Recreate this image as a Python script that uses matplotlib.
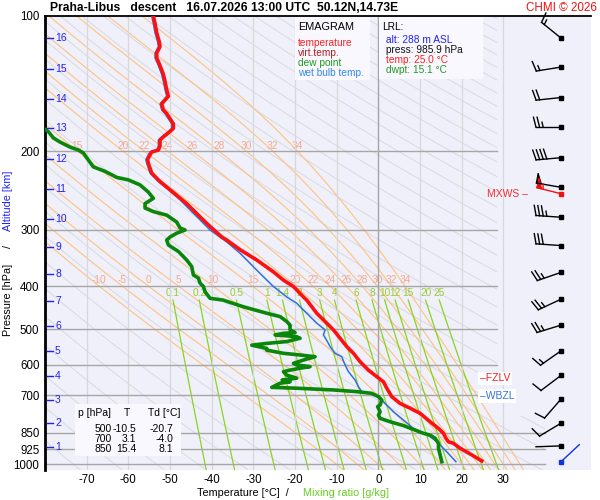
import numpy as np
import matplotlib
matplotlib.use("Agg")
import matplotlib.pyplot as plt
from matplotlib.patches import Rectangle, Polygon
from matplotlib.lines import Line2D
from matplotlib.transforms import IdentityTransform

plt.rcParams['font.family'] = ['Liberation Sans', 'DejaVu Sans']

# ---------------- data ----------------
TEMP_T = [24.8, 22.4, 19.6, 18.0, 16.8, 16.2, 15.6, 14.4, 12.4, 10.0, 7.6, 5.2, 3.2, 2.0, 1.2,
          -0.4, -2.4, -4.4, -6.0, -7.6, -9.2, -10.8, -12.8, -14.8, -17.2, -18.0, -20.4, -22.8,
          -25.2, -29.2, -33.2, -36.4, -37.6, -41.2, -46.0, -50.0, -52.4, -54.4, -55.2, -55.4,
          -54.8, -54.4, -52.8, -52.4, -52.4, -51.6, -50.0, -49.2, -49.2, -50.8, -51.6, -52.0,
          -51.2, -50.4, -50.8, -51.2, -51.6, -52.4, -53.2, -53.2, -52.4, -52.6, -53.2, -53.6, -54.0]
TEMP_P = [982, 952, 920, 897, 890, 874, 852, 831, 803, 769, 749, 731, 706, 676, 654,
          637, 616, 590, 565, 546, 523, 501, 480, 460, 430, 423, 401, 388,
          372, 350, 332, 316, 311, 290, 262, 244, 234, 224, 213, 209,
          204, 201, 199, 195, 189, 186, 181, 178, 174, 165, 162, 157,
          154, 151, 146, 140, 135, 129, 124, 121, 117, 114, 109, 104, 100]

WB_T = [18.6, 16.4, 14.0, 12.4, 10.8, 8.4, 6.0, 3.6, 1.6, 0.0, -2.0, -4.0, -4.8, -5.6, -7.2,
        -8.0, -8.8, -10.4, -11.6, -12.0, -13.2, -12.8, -14.8, -17.2, -19.6, -20.8, -22.0,
        -25.2, -28.4, -33.2, -36.4, -40.4, -43.6, -47.6, -50.4, -52.8, -54.8, -55.6, -55.8,
        -55.2, -54.8, -53.2, -52.8, -52.8, -52.0, -50.4, -49.6, -49.6, -51.2, -52.0, -52.4,
        -51.6, -50.8, -51.2, -51.6, -52.0, -52.8, -53.6, -53.6, -52.8, -53.0, -53.6, -54.0, -54.4]
WB_P = [986, 937, 890, 867, 852, 831, 796, 763, 731, 706, 694, 688, 671, 648, 621,
        600, 575, 565, 546, 537, 514, 501, 484, 460, 437, 430, 423,
        401, 375, 338, 319, 300, 280, 257, 244, 234, 224, 213, 209,
        204, 201, 199, 195, 189, 186, 181, 178, 174, 165, 162, 157,
        154, 151, 146, 140, 135, 129, 124, 121, 117, 114, 109, 104, 100]

DEW_T = [15.2, 14.8, 14.4, 14.4, 13.6, 12.4, 10.8, 8.8, 6.0, 2.8, 0.4, 0.0, 0.4, -0.2, 0.4,
         0.8, 0.0, -1.6, -5.2, -10.8, -19.6, -25.6, -23.6, -21.2, -23.1, -19.6, -22.0, -22.8,
         -21.2, -18.8, -16.4, -19.6, -20.4, -18.0, -15.2, -18.8, -22.8, -26.8, -26.8, -30.4,
         -26.8, -22.0, -18.8, -19.6, -24.8, -22.8, -20.0, -21.2, -21.2, -22.0, -23.6, -26.8,
         -32.4, -37.3, -40.4, -41.6, -42.0, -42.8, -43.2, -44.4, -44.8, -46.0, -48.0, -50.4,
         -50.8, -50.0, -48.4, -46.4, -47.6, -48.4, -50.8, -54.0, -56.0, -56.0, -54.0, -55.2,
         -57.2, -60.0, -62.8, -65.6, -68.4, -70.0, -70.8, -72.0, -74.0, -76.4, -78.0, -79.2, -81.2]
DEW_P = [986, 952, 920, 897, 874, 860, 852, 838, 819, 803, 789, 776, 763, 743, 737,
         718, 706, 694, 688, 682, 676, 673, 659, 654, 648, 642, 632, 621,
         616, 610, 605, 600, 595, 585, 575, 570, 565, 556, 551, 542,
         537, 532, 523, 519, 514, 510, 508, 501, 489, 480, 468, 460,
         445, 430, 426, 412, 401, 394, 384, 378, 362, 350, 335, 324,
         316, 311, 305, 300, 297, 288, 278, 273, 268, 262, 255, 247,
         238, 232, 229, 222, 217, 207, 202, 199, 196, 191, 187, 181, 176]

P_TICKS = [100, 200, 300, 400, 500, 600, 700, 850, 925, 1000]
T_TICKS = [-70, -60, -50, -40, -30, -20, -10, 0, 10, 20, 30]
KM_LABELS = [1, 2, 3, 4, 5, 6, 7, 8, 9, 10, 11, 12, 13, 14, 15, 16]
KM_P = [913, 809, 718, 635, 558, 491, 432, 376, 327, 283, 243, 208, 178, 153, 131, 112]

THETA_DRY = list(range(190, 640, 10))
THETA_W = [-10, -5, 0, 5, 10, 15, 20, 22, 24, 26, 28, 30, 32, 34]
THETA_W_LAB200 = [15, 20, 22, 24, 26, 28, 30, 32, 34]
MIX_R = [0.1, 0.2, 0.5, 1, 1.4, 2, 3, 4, 6, 8, 10, 12, 15, 20, 25]
MIX_LAB = ['0.1', '0.2', '0.5', '1', '1.4', '2', '3', '4', '6', '8', '10', '12', '15', '20', '25']

WIND_P = [112, 130, 152, 177, 207, 241, 281, 325, 373, 428, 489, 558, 633, 715, 809, 909]
WIND_DIR = [309, 261, 264, 270, 265, 280, 274, 274, 251, 245, 253, 235, 233, 221, 239, 268]
WIND_SPD = [15, 15, 20, 25, 40, 50, 35, 30, 25, 25, 25, 15, 10, 10, 10, 2]
MXWS_P, MXWS_DIR, MXWS_SPD = 249, 284, 55
SFC_P, SFC_DIR, SFC_SPD = 986, 47, 2

FZLV_P = 642
WBZL_P = 703

TABLE_ROWS = [("500", "-10.5", "-20.7"), ("700", "3.1", "-4.0"), ("850", "15.4", "8.1")]

# ---------------- figure ----------------
W, H = 600, 500
fig = plt.figure(figsize=(6, 5), dpi=100)
ax = fig.add_axes([45 / W, 1 - 470 / H, (591 - 45) / W, (470 - 16) / H])
ax.set_facecolor('#f0f0fb')
ax.set_yscale('log')
P_BOT = 1028.7
ax.set_xlim(-80, 51.0)
ax.set_ylim(P_BOT, 100)

for s in ['right', 'bottom']:
    ax.spines[s].set_visible(False)
ax.spines['left'].set_linewidth(2)
ax.spines['top'].set_linewidth(1.3)

ax.set_yticks(P_TICKS)
ax.set_yticklabels([str(p) for p in P_TICKS])
ax.yaxis.set_minor_locator(matplotlib.ticker.NullLocator())
ax.set_xticks(T_TICKS)
ax.set_xticklabels([str(t) for t in T_TICKS])
ax.tick_params(axis='both', length=0, labelsize=8.3)
ax.tick_params(axis='y', pad=4)
ax.tick_params(axis='x', pad=3)

# clip region of the diagram
clip = Polygon([(-80, 90), (28.5, 90), (28.5, 780), (40, 780), (40, 1100), (-80, 1100)],
               closed=True, transform=ax.transData, facecolor='none', edgecolor='none')
ax.add_patch(clip)

pp = np.exp(np.linspace(np.log(100), np.log(1035), 300))
# dry adiabats
for th in THETA_DRY:
    T = th * (pp / 1000.0) ** 0.2857 - 273.15
    ln, = ax.plot(T, pp, color='#d9d9de', lw=0.7, zorder=1)
    ln.set_clip_path(clip)

# moist adiabats
Rd, Cp, Lv, eps = 287.04, 1005.7, 2.501e6, 0.622


def dTdlnp(T, lnp):
    p = np.exp(lnp)
    Tc = T - 273.15
    es = 6.112 * np.exp(17.67 * Tc / (Tc + 243.5))
    rs = eps * es / (p - es)
    return (Rd * T + Lv * rs) / (Cp + Lv * Lv * rs * eps / (Rd * T * T))


def integrate(T0, lnps):
    out = [T0]
    T = T0
    for i in range(len(lnps) - 1):
        h = lnps[i + 1] - lnps[i]
        x = lnps[i]
        k1 = dTdlnp(T, x)
        k2 = dTdlnp(T + 0.5 * h * k1, x + 0.5 * h)
        k3 = dTdlnp(T + 0.5 * h * k2, x + 0.5 * h)
        k4 = dTdlnp(T + h * k3, x + h)
        T = T + h / 6 * (k1 + 2 * k2 + 2 * k3 + k4)
        out.append(T)
    return np.array(out)


T0 = np.array(THETA_W, dtype=float) + 273.15
up = np.linspace(np.log(1000), np.log(100), 500)
dn = np.linspace(np.log(1000), np.log(1035), 20)
Tup = integrate(T0, up)
Tdn = integrate(T0, dn)
lnp_all = np.concatenate([dn[::-1], up[1:]])
T_all = np.concatenate([Tdn[::-1], Tup[1:]]) - 273.15
p_all = np.exp(lnp_all)
for k, thw in enumerate(THETA_W):
    ln, = ax.plot(T_all[:, k], p_all, color='#ffc27e', lw=0.8, zorder=1.2)
    ln.set_clip_path(clip)
    Tk = T_all[::-1, k]
    lk = lnp_all[::-1]
    t400 = np.interp(np.log(400), lk, Tk)
    ax.text(t400, 388, str(thw), color='#f6a98c', fontsize=7.3, ha='center', va='center', zorder=1.3)
    if thw in THETA_W_LAB200:
        t200 = np.interp(np.log(200), lk, Tk)
        ax.text(t200, 195, str(thw), color='#f6a98c', fontsize=7.3, ha='center', va='center', zorder=1.3)

# mixing ratio lines
pm = np.exp(np.linspace(np.log(430), np.log(1035), 80))
for w, lab in zip(MIX_R, MIX_LAB):
    e = (w / 1000.0) * pm / (eps + w / 1000.0)
    le = np.log(e / 6.112)
    T = 243.5 * le / (17.67 - le)
    ax.plot(T, pm, color='#8ad41c', lw=0.9, zorder=1.4)
    ax.text(T[0], 414, lab, color='#99cc33', fontsize=7.3, ha='center', va='center', zorder=1.5)

# vertical grid lines
for t in T_TICKS:
    ax.axvline(t, color='#a4a4a4' if t == 0 else '#d8d8d8', lw=1.0 if t == 0 else 0.9, zorder=1.6)

# horizontal grid lines
for p in P_TICKS[1:]:
    xend = 40 if p >= 850 else 28.5
    ax.plot([-80, xend], [p, p], color='#a6a6a6', lw=1.0, zorder=2)

# profiles
ax.plot(WB_T, WB_P, color='#2b6fe0', lw=1.1, zorder=4)
ax.plot(TEMP_T, TEMP_P, color='#ff1010', lw=2.6, zorder=5, solid_joinstyle='round')
ax.plot(DEW_T, DEW_P, color='#0a870a', lw=2.6, zorder=5, solid_joinstyle='round')

# altitude labels
for km, p in zip(KM_LABELS, KM_P):
    ax.plot([-79.6, -78.1], [p, p], color='#2222ee', lw=1.0, zorder=6, clip_on=False)
    ax.text(-77.6, p, str(km), color='#2222ee', fontsize=7.5, ha='left', va='center', zorder=6)

# level labels
ax.text(24.4, FZLV_P, '–FZLV', color='#ee2020', fontsize=7.5, ha='left', va='center', zorder=7,
        bbox=dict(facecolor='white', edgecolor='none', pad=1.2))
ax.text(24.4, WBZL_P, '–WBZL', color='#3377dd', fontsize=7.5, ha='left', va='center', zorder=7,
        bbox=dict(facecolor='white', edgecolor='none', pad=1.2))
ax.text(26.1, MXWS_P, 'MXWS –', color='#ee3030', fontsize=7.5, ha='left', va='center', zorder=7)

# wind barbs
T_B = 43.8


def barb(p, ddeg, spd, color):
    x0, y0 = ax.transData.transform((T_B, p))
    th = np.deg2rad(ddeg)
    ux, uy = np.sin(th), np.cos(th)
    nx, ny = uy, -ux
    L, hgt, sp, fw = 25.0, 10.0, 3.6, 5.0
    xe, ye = x0 + L * ux, y0 + L * uy
    fig.add_artist(Line2D([x0, xe], [y0, ye], transform=IdentityTransform(), color=color, lw=1.0))
    rem = int(round(spd / 5.0)) * 5
    pos = 0.0
    while rem >= 50:
        bx, by = xe - pos * ux, ye - pos * uy
        cx, cy = xe - (pos + fw) * ux, ye - (pos + fw) * uy
        tx, ty = bx + hgt * nx, by + hgt * ny
        fig.add_artist(Polygon([(bx, by), (tx, ty), (cx, cy)], closed=True, transform=IdentityTransform(),
                               facecolor=color, edgecolor=color, lw=0.8))
        pos += fw + 1.5
        rem -= 50
    while rem >= 10:
        bx, by = xe - pos * ux, ye - pos * uy
        tx, ty = bx + hgt * nx + 0.25 * hgt * ux, by + hgt * ny + 0.25 * hgt * uy
        fig.add_artist(Line2D([bx, tx], [by, ty], transform=IdentityTransform(), color=color, lw=1.0))
        pos += sp
        rem -= 10
    if rem >= 5:
        if pos == 0:
            pos = sp
        bx, by = xe - pos * ux, ye - pos * uy
        tx, ty = bx + 0.5 * hgt * nx + 0.12 * hgt * ux, by + 0.5 * hgt * ny + 0.12 * hgt * uy
        fig.add_artist(Line2D([bx, tx], [by, ty], transform=IdentityTransform(), color=color, lw=1.0))


for p, d, s in zip(WIND_P, WIND_DIR, WIND_SPD):
    barb(p, d, s, 'black')
barb(MXWS_P, MXWS_DIR, MXWS_SPD, '#ee1111')
barb(SFC_P, SFC_DIR, SFC_SPD, '#1133dd')
ax.plot([T_B] * len(WIND_P), WIND_P, 's', color='black', ms=2.4, zorder=8, clip_on=False)
ax.plot([T_B], [MXWS_P], 's', color='#ee1111', ms=2.4, zorder=8, clip_on=False)
ax.plot([T_B], [SFC_P], 's', color='#1133dd', ms=2.6, zorder=8, clip_on=False)


# ---------------- texts & boxes in figure pixels ----------------
def ftext(x, y, s, **kw):
    kw.setdefault('zorder', 11)
    return fig.text(x / W, 1 - y / H, s, **kw)


def fbox(x0, y0, x1, y1, color='#f8f8fe'):
    fig.add_artist(Rectangle((x0 / W, 1 - y1 / H), (x1 - x0) / W, (y1 - y0) / H, transform=fig.transFigure,
                             facecolor=color, edgecolor='none', zorder=10))


ftext(50, 8, 'Praha-Libus   descent   16.07.2026 13:00 UTC  50.12N,14.73E', fontsize=8.7,
      fontweight='bold', ha='left', va='center')
ftext(597, 8, 'CHMI © 2026', fontsize=8.4, color='#ee1111', ha='right', va='center')

fbox(295, 17, 370, 80)
ftext(298, 26.5, 'EMAGRAM', fontsize=7.8, ha='left', va='center')
ftext(298, 42.5, 'temperature', fontsize=7.3, color='#ff2020', ha='left', va='center')
ftext(298, 52.5, 'virt.temp.', fontsize=7.3, color='#aa2020', ha='left', va='center')
ftext(298, 62.5, 'dew point', fontsize=7.3, color='#229922', ha='left', va='center')
ftext(298, 72.5, 'wet bulb temp.', fontsize=7.3, color='#3388ee', ha='left', va='center')

fbox(379, 17, 483, 79)
ftext(382, 27.5, 'LRL:', fontsize=7.3, ha='left', va='center')
ftext(386, 40, 'alt: 288 m ASL', fontsize=7.3, color='#2222ee', ha='left', va='center')
ftext(386, 50, 'press: 985.9 hPa', fontsize=7.3, color='#111111', ha='left', va='center')
ftext(386, 60, 'temp: 25.0 °C', fontsize=7.3, color='#ff2020', ha='left', va='center')
ftext(386, 70, 'dwpt: 15.1 °C', fontsize=7.3, color='#229922', ha='left', va='center')

fbox(75, 404, 181, 456)
ftext(78, 413.5, 'p [hPa]', fontsize=7.5, ha='left', va='center')
ftext(126.5, 413.5, 'T', fontsize=7.5, ha='center', va='center')
ftext(180, 413.5, 'Td [°C]', fontsize=7.5, ha='right', va='center')
for i, (a, b, c) in enumerate(TABLE_ROWS):
    y = 428.5 + 10 * i
    ftext(111.5, y, a, fontsize=7.5, ha='right', va='center')
    ftext(136, y, b, fontsize=7.5, ha='right', va='center')
    ftext(173.5, y, c, fontsize=7.5, ha='right', va='center')

# axis labels
ftext(8, 300, 'Pressure [hPa]', fontsize=7.8, rotation=90, ha='center', va='center')
ftext(8, 246, '/', fontsize=7.8, rotation=90, ha='center', va='center')
ftext(8, 201, 'Altitude [km]', fontsize=7.8, rotation=90, ha='center', va='center', color='#2222ee')
ftext(197, 493, 'Temperature [°C]  /', fontsize=7.8, ha='left', va='center')
ftext(303, 493, 'Mixing ratio [g/kg]', fontsize=7.8, ha='left', va='center', color='#66cc22')

fig.savefig('out.png', dpi=100, facecolor='white')
